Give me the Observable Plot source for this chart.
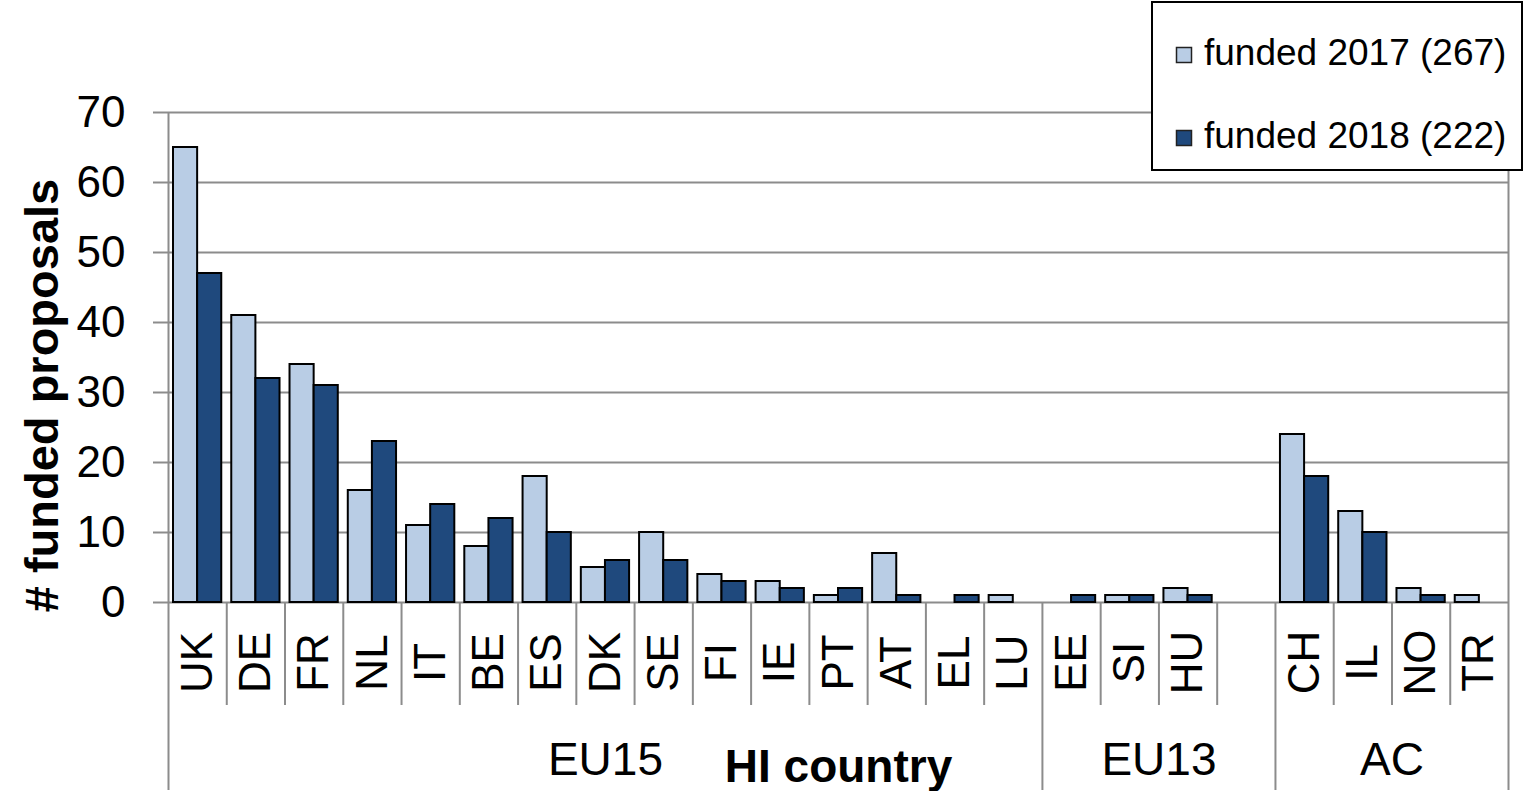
<!DOCTYPE html>
<html>
<head>
<meta charset="utf-8">
<script src="https://cdn.jsdelivr.net/npm/d3@7"></script>
<script src="https://cdn.jsdelivr.net/npm/@observablehq/plot@0.6"></script>
<style>
  html, body { margin: 0; padding: 0; background: #fff; }
  #wrap { position: relative; width: 1524px; height: 791px; font-family: "Liberation Sans", Arial, sans-serif; }
  #legend { position: absolute; left: 1151px; top: 1px; }
  #chart svg { display: block; }
</style>
</head>
<body>
<div id="wrap">
  <div id="chart"></div>
  <div id="legend"></div>
</div>
<script>
// ---- data ----
const eu15 = ["UK","DE","FR","NL","IT","BE","ES","DK","SE","FI","IE","PT","AT","EL","LU"];
const eu13 = ["EE","SI","HU",""];
const ac = ["CH","IL","NO","TR"];
const groupNames = ["EU15","EU13","AC"];
const countries = [...eu15, ...eu13, ...ac];
const funded2017 = [65,41,34,16,11,8,18,5,10,4,3,1,7,0,1, 0,1,2,null, 24,13,2,1];
const funded2018 = [47,32,31,23,14,12,10,6,6,3,2,2,1,1,0, 1,1,1,null, 18,10,1,0];
const yTicks = [0,10,20,30,40,50,60,70];
const seriesLabels = ["funded 2017 (267)","funded 2018 (222)"];
const seriesColors = ["#b9cde5","#1f497d"];
const yTitle = "# funded proposals";
const xTitle = "HI country";

// ---- layout / style ----
const W = 1524, H = 791, ML = 168, MR = 16, MT = 112, MB = 189;
const plotW = W - ML - MR, plotH = H - MT - MB;
const step = plotW / countries.length;
const pad = 5, barW = (step - 2 * pad) / 2;
const gray = "#8c8c8c";
const font = "'Liberation Sans', Arial, sans-serif";

const rows = countries.map((c, i) => ({country: c, v2017: funded2017[i], v2018: funded2018[i]}))
  .filter(d => d.country !== "");
const groups = [eu15, eu13, ac].map((m, i) => ({name: groupNames[i], members: m}));
const firstSlots = groups.map(g => g.members[0]);
const innerSlots = countries.filter(c => !firstSlots.includes(c));

const chart = Plot.plot({
  width: W, height: H,
  marginLeft: ML, marginRight: MR, marginTop: MT, marginBottom: MB,
  style: {fontFamily: font, background: "white", color: "black", overflow: "visible"},
  x: {type: "band", domain: countries, padding: 0, round: false, axis: null},
  y: {domain: [0, 70], axis: null},
  marks: [
    Plot.gridY(yTicks, {stroke: gray, strokeOpacity: 1, strokeWidth: 2}),
    // country separators below axis
    Plot.ruleX(innerSlots, {x: d => d, dx: -step / 2, insetTop: plotH, insetBottom: -103, stroke: gray, strokeWidth: 2}),
    // group separators (EU13, AC)
    Plot.ruleX(firstSlots.slice(1), {x: d => d, dx: -step / 2, insetTop: plotH, insetBottom: -188, stroke: gray, strokeWidth: 2}),
    // left axis line and right border
    Plot.ruleX([countries[0]], {x: d => d, dx: -step / 2, insetBottom: -188, stroke: gray, strokeWidth: 2}),
    Plot.ruleX([countries[countries.length - 1]], {x: d => d, dx: step / 2, insetBottom: -188, stroke: gray, strokeWidth: 2}),
    // bars
    Plot.barY(rows.filter(d => d.v2017 > 0), {x: "country", y: "v2017", insetLeft: pad, insetRight: pad + barW,
      fill: seriesColors[0], stroke: "black", strokeWidth: 2}),
    Plot.barY(rows.filter(d => d.v2018 > 0), {x: "country", y: "v2018", insetLeft: pad + barW, insetRight: pad,
      fill: seriesColors[1], stroke: "black", strokeWidth: 2}),
    // y axis
    Plot.axisY(yTicks, {tickSize: 15, tickPadding: 28, fontSize: 44, stroke: gray, strokeWidth: 2, label: null}),
    // country labels
    Plot.text(countries, {x: d => d, text: d => d, frameAnchor: "bottom", dy: 60, rotate: -90,
      textAnchor: "middle", lineAnchor: "middle", fontSize: 44}),
    // group labels
    ...groups.map(g => Plot.text([g.name], {x: () => g.members[0], text: d => d, frameAnchor: "bottom",
      dx: (g.members.length - 1) * step / 2, dy: 158, lineAnchor: "middle", textAnchor: "middle", fontSize: 46})),
    // x title
    Plot.text([xTitle], {text: d => d, frameAnchor: "bottom", dy: 165, lineAnchor: "middle",
      textAnchor: "middle", fontSize: 46, fontWeight: "bold"}),
    // y title
    Plot.text([yTitle], {text: d => d, frameAnchor: "left", dx: -126, dy: 38, rotate: -90,
      textAnchor: "middle", lineAnchor: "middle", fontSize: 47, fontWeight: "bold"})
  ]
});
document.getElementById("chart").appendChild(chart);

// ---- legend ----
const leg = d3.select("#legend").append("svg").attr("width", 373).attr("height", 172)
  .style("font-family", font).style("display", "block");
leg.append("rect").attr("x", 1).attr("y", 1).attr("width", 370).attr("height", 168)
  .attr("fill", "white").attr("stroke", "black").attr("stroke-width", 2);
const entries = leg.selectAll("g").data(seriesLabels).join("g")
  .attr("transform", (d, i) => `translate(0, ${i * 83})`);
entries.append("rect").attr("x", 25.5).attr("y", 46.5).attr("width", 15).attr("height", 15)
  .attr("fill", (d, i) => seriesColors[i]).attr("stroke", "#222").attr("stroke-width", 1.5);
entries.append("text").attr("x", 53).attr("y", 64).attr("font-size", 37).attr("fill", "black").text(d => d);
</script>
</body>
</html>
